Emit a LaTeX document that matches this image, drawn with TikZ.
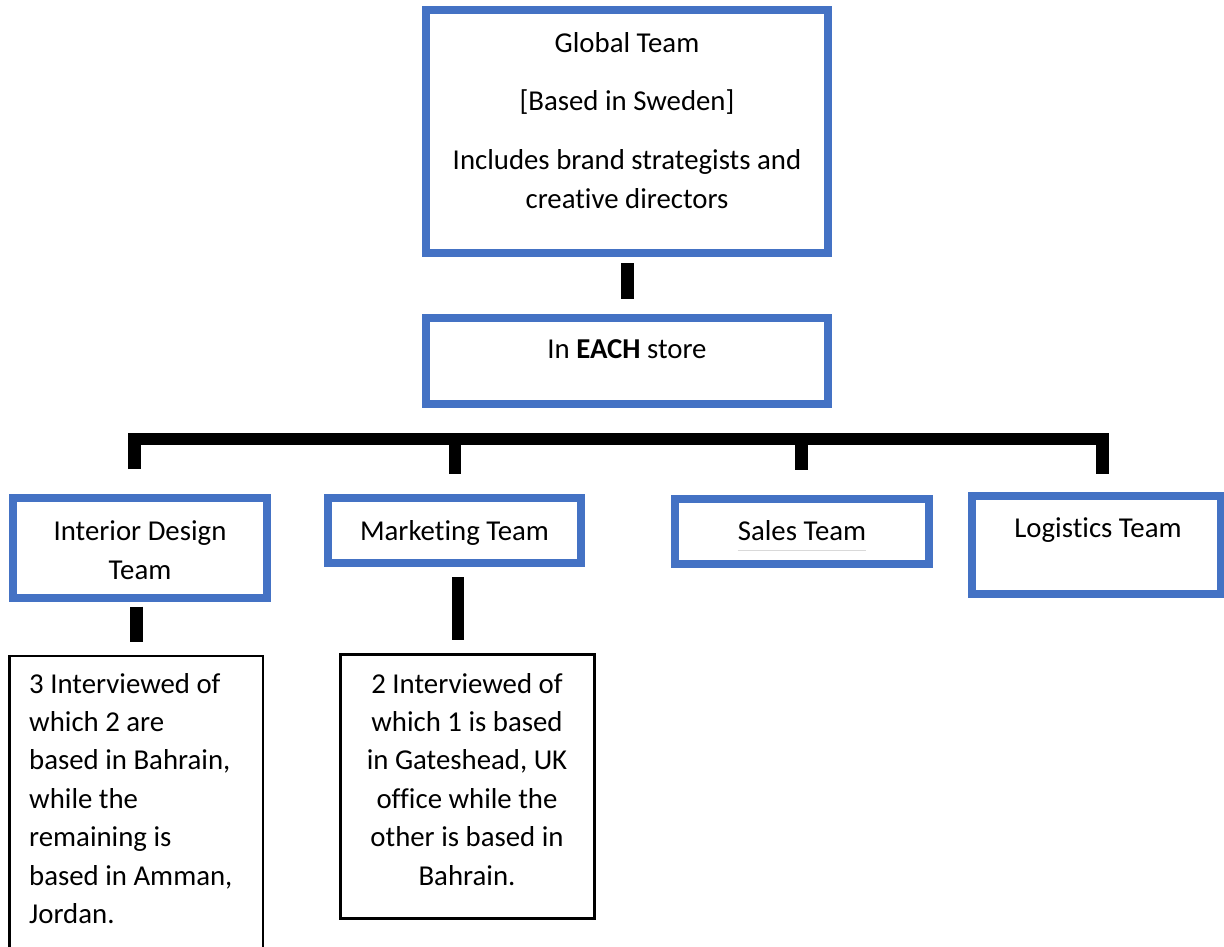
\documentclass[tikz,border=0pt]{standalone}
\usepackage{fontspec}
\setmainfont[Ligatures={NoCommon}]{Carlito}
\usetikzlibrary{calc}
\definecolor{boxblue}{HTML}{4472C4}
\begin{document}
\begin{tikzpicture}[x=1pt,y=-1pt,
  bluebox/.style={draw=boxblue, line width=8pt, rectangle, inner sep=0pt, fill=white},
  notebox/.style={draw=black, line width=2.6pt, rectangle, inner sep=0pt},
  barline/.style={draw=black, line width=12.5pt, line cap=butt, miter limit=10},
  txt/.style={inner sep=0pt, font=\fontsize{28.8}{39.5}\selectfont},
  notetxt/.style={inner sep=0pt, font=\fontsize{28.8}{38.4}\selectfont},
]
\useasboundingbox (0,0) rectangle (1224,946);
\clip (0,0) rectangle (1224,946);
\fill[white] (0,0) rectangle (1224,946);

% boxes
\node[bluebox, minimum width=402pt, minimum height=243.5pt] (global) at (627,131.25) {};
\node[bluebox, minimum width=402pt, minimum height=86.5pt] (each) at (627,360.75) {};
\node[bluebox, minimum width=254pt, minimum height=99.5pt] (interior) at (140,547.75) {};
\node[bluebox, minimum width=253pt, minimum height=65pt] (marketing) at (454.5,530.5) {};
\node[bluebox, minimum width=254pt, minimum height=65pt] (sales) at (802,531) {};
\node[bluebox, minimum width=249pt, minimum height=98pt] (logistics) at (1096.5,545) {};
\node[notebox, minimum width=253.5pt, minimum height=330pt] (interiornote) at (136.25,821) {};
\node[notebox, minimum width=254pt, minimum height=264pt] (marketingnote) at (467.5,786.5) {};

% global team to store
\draw[barline, line width=13pt, shorten <=6pt, shorten >=15pt] (global.south) -- (each.north);

% bus to the four teams
\coordinate (busL) at (134.5,439);
\coordinate (busM) at (455,439);
\coordinate (busS) at (801.5,439);
\coordinate (busR) at (1102.5,439);
\draw[barline] ($(interior.north -| busL)+(0,-25)$) -- (busL) -- (busR) -- ($(logistics.north -| busR)+(0,-18)$);
\draw[barline] (busM) -- ($(marketing.north -| busM)+(0,-20)$);
\draw[barline] (busS) -- ($(sales.north -| busS)+(0,-25)$);

% teams to interview notes
\draw[barline, line width=13pt, shorten <=5pt, shorten >=12.5pt] (interior.south -| interiornote.north) -- (interiornote.north);
\coordinate (mkdrop) at (458,600);
\draw[barline, line width=12pt, shorten <=10pt, shorten >=13pt] (marketing.south -| mkdrop) -- (marketingnote.north -| mkdrop);

% texts
\node[txt, anchor=base] (t-global) at (627,52) {Global Team};
\node[txt, anchor=base] (t-based) at (627,110) {[Based in Sweden]};
\node[txt, anchor=base] (t-incl) at (627,169) {\begin{tabular}[t]{@{}c@{}}Includes brand strategists and\\creative directors\end{tabular}};
\node[txt, anchor=base] (t-each) at (627,358) {In \textbf{EACH} store};
\node[txt, anchor=base] (t-interior) at (140,540) {\begin{tabular}[t]{@{}c@{}}Interior Design\\Team\end{tabular}};
\node[txt, anchor=base] (t-marketing) at (454.5,540) {Marketing Team};
\node[txt, anchor=base] (t-sales) at (802,540) {Sales Team};
\node[txt, anchor=base] (t-logistics) at (1098,537) {Logistics Team};
\draw[gray!30, line width=1pt] ($(t-sales.base west)+(0,10)$) -- ($(t-sales.base east)+(0,10)$);

\node[notetxt, anchor=base west] (t-interiornote) at (29,693) {\begin{tabular}[t]{@{}l@{}}3 Interviewed of\\which 2 are\\based in Bahrain,\\while the\\remaining is\\based in Amman,\\Jordan.\end{tabular}};
\node[notetxt, anchor=base] (t-marketingnote) at (467,693) {\begin{tabular}[t]{@{}c@{}}2 Interviewed of\\which 1 is based\\in Gateshead, UK\\office while the\\other is based in\\Bahrain.\end{tabular}};
\end{tikzpicture}
\end{document}
